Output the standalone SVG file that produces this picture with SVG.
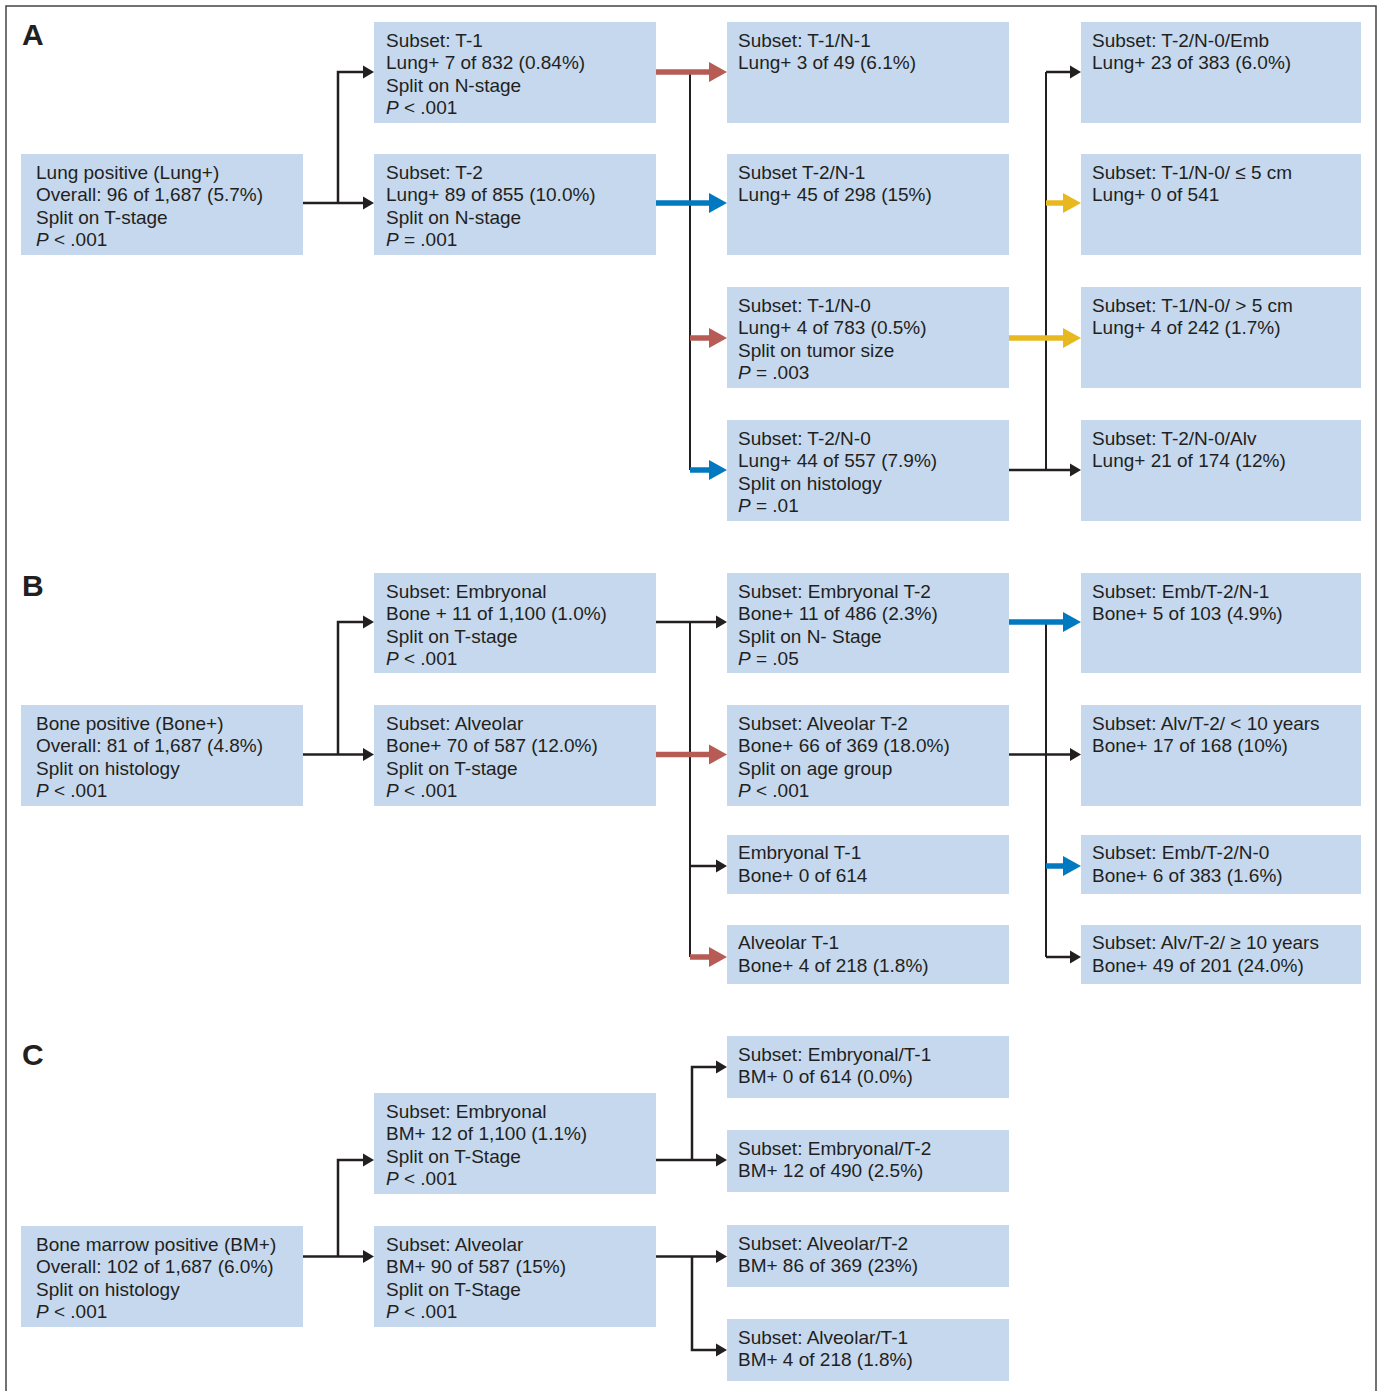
<svg xmlns="http://www.w3.org/2000/svg" width="1381" height="1391" viewBox="0 0 1381 1391">
<style>
.box{fill:#C5D8EE}
.t{font-family:"Liberation Sans",Arial,sans-serif;font-size:19px;fill:#231F20}
.lab{font-family:"Liberation Sans",Arial,sans-serif;font-size:30px;font-weight:bold;fill:#231F20}
.i{font-style:italic}
.k{fill:none;stroke:#231F20;stroke-width:2.5}
.v{fill:none;stroke:#231F20;stroke-width:2}
.r{fill:none;stroke:#B65C54;stroke-width:5.5}
.b{fill:none;stroke:#0079C1;stroke-width:5.5}
.y{fill:none;stroke:#E8B820;stroke-width:5.5}
</style>
<defs>
<marker id="mk" markerUnits="userSpaceOnUse" markerWidth="12" markerHeight="14" refX="0" refY="6.5" orient="auto" overflow="visible"><path d="M0,0 L11,6.5 L0,13 z" fill="#231F20"/></marker>
<marker id="mr" markerUnits="userSpaceOnUse" markerWidth="19" markerHeight="21" refX="0" refY="10" orient="auto" overflow="visible"><path d="M0,0 L18,10 L0,20 z" fill="#B65C54"/></marker>
<marker id="mb" markerUnits="userSpaceOnUse" markerWidth="19" markerHeight="21" refX="0" refY="10" orient="auto" overflow="visible"><path d="M0,0 L18,10 L0,20 z" fill="#0079C1"/></marker>
<marker id="my" markerUnits="userSpaceOnUse" markerWidth="19" markerHeight="21" refX="0" refY="10" orient="auto" overflow="visible"><path d="M0,0 L18,10 L0,20 z" fill="#E8B820"/></marker>
</defs>
<rect x="0" y="0" width="1381" height="1391" fill="#fff"/>
<rect x="6" y="6" width="1370" height="1400" fill="none" stroke="#444" stroke-width="1.5"/>
<text class="lab" x="22" y="45">A</text>
<text class="lab" x="22" y="596">B</text>
<text class="lab" x="22" y="1065">C</text>

<g id="connectors">
<!-- A -->
<path class="k" d="M303,203 H363" marker-end="url(#mk)"/>
<path class="k" d="M338,203 V72 H363" marker-end="url(#mk)"/>
<path class="v" d="M690,72 V470"/>
<path class="v" d="M1046,72 V470"/>
<path class="r" d="M656,72 H709" marker-end="url(#mr)"/>
<path class="r" d="M690,338 H709" marker-end="url(#mr)"/>
<path class="b" d="M656,203 H709" marker-end="url(#mb)"/>
<path class="b" d="M690,470 H709" marker-end="url(#mb)"/>
<path class="y" d="M1009,338 H1063" marker-end="url(#my)"/>
<path class="y" d="M1046,203 H1063" marker-end="url(#my)"/>
<path class="k" d="M1009,470 H1070" marker-end="url(#mk)"/>
<path class="k" d="M1046,72 H1070" marker-end="url(#mk)"/>
<!-- B -->
<path class="k" d="M303,754.5 H363" marker-end="url(#mk)"/>
<path class="k" d="M338,754.5 V622 H363" marker-end="url(#mk)"/>
<path class="v" d="M690,622 V957"/>
<path class="v" d="M1046,622 V957"/>
<path class="k" d="M656,622 H716" marker-end="url(#mk)"/>
<path class="k" d="M690,866 H716" marker-end="url(#mk)"/>
<path class="r" d="M690,957 H709" marker-end="url(#mr)"/>
<path class="r" d="M656,754.5 H709" marker-end="url(#mr)"/>
<path class="b" d="M1009,622 H1063" marker-end="url(#mb)"/>
<path class="b" d="M1046,866 H1063" marker-end="url(#mb)"/>
<path class="k" d="M1009,754.5 H1070" marker-end="url(#mk)"/>
<path class="k" d="M1046,957 H1070" marker-end="url(#mk)"/>
<!-- C -->
<path class="k" d="M303,1256.5 H363" marker-end="url(#mk)"/>
<path class="k" d="M338,1256.5 V1160 H363" marker-end="url(#mk)"/>
<path class="k" d="M656,1160 H716" marker-end="url(#mk)"/>
<path class="k" d="M692,1160 V1067 H716" marker-end="url(#mk)"/>
<path class="k" d="M656,1256.5 H716" marker-end="url(#mk)"/>
<path class="k" d="M692,1256.5 V1350 H716" marker-end="url(#mk)"/>
</g>

<!-- Section A nodes -->
<g id="a0"><rect class="box" x="21" y="154" width="282" height="101"/>
<text class="t" x="36" y="178.5">Lung positive (Lung+)</text>
<text class="t" x="36" y="201">Overall: 96 of 1,687 (5.7%)</text>
<text class="t" x="36" y="223.5">Split on T-stage</text>
<text class="t" x="36" y="246"><tspan class="i">P</tspan> &lt; .001</text></g>
<g id="a1"><rect class="box" x="374" y="22" width="282" height="101"/>
<text class="t" x="386" y="46.5">Subset: T-1</text>
<text class="t" x="386" y="69">Lung+ 7 of 832 (0.84%)</text>
<text class="t" x="386" y="91.5">Split on N-stage</text>
<text class="t" x="386" y="114"><tspan class="i">P</tspan> &lt; .001</text></g>
<g id="a2"><rect class="box" x="374" y="154" width="282" height="101"/>
<text class="t" x="386" y="178.5">Subset: T-2</text>
<text class="t" x="386" y="201">Lung+ 89 of 855 (10.0%)</text>
<text class="t" x="386" y="223.5">Split on N-stage</text>
<text class="t" x="386" y="246"><tspan class="i">P</tspan> = .001</text></g>
<g id="a3"><rect class="box" x="727" y="22" width="282" height="101"/>
<text class="t" x="738" y="46.5">Subset: T-1/N-1</text>
<text class="t" x="738" y="69">Lung+ 3 of 49 (6.1%)</text></g>
<g id="a4"><rect class="box" x="727" y="154" width="282" height="101"/>
<text class="t" x="738" y="178.5">Subset T-2/N-1</text>
<text class="t" x="738" y="201">Lung+ 45 of 298 (15%)</text></g>
<g id="a5"><rect class="box" x="727" y="287" width="282" height="101"/>
<text class="t" x="738" y="311.5">Subset: T-1/N-0</text>
<text class="t" x="738" y="334">Lung+ 4 of 783 (0.5%)</text>
<text class="t" x="738" y="356.5">Split on tumor size</text>
<text class="t" x="738" y="379"><tspan class="i">P</tspan> = .003</text></g>
<g id="a6"><rect class="box" x="727" y="420" width="282" height="101"/>
<text class="t" x="738" y="444.5">Subset: T-2/N-0</text>
<text class="t" x="738" y="467">Lung+ 44 of 557 (7.9%)</text>
<text class="t" x="738" y="489.5">Split on histology</text>
<text class="t" x="738" y="512"><tspan class="i">P</tspan> = .01</text></g>
<g id="a7"><rect class="box" x="1081" y="22" width="280" height="101"/>
<text class="t" x="1092" y="46.5">Subset: T-2/N-0/Emb</text>
<text class="t" x="1092" y="69">Lung+ 23 of 383 (6.0%)</text></g>
<g id="a8"><rect class="box" x="1081" y="154" width="280" height="101"/>
<text class="t" x="1092" y="178.5">Subset: T-1/N-0/ ≤ 5 cm</text>
<text class="t" x="1092" y="201">Lung+ 0 of 541</text></g>
<g id="a9"><rect class="box" x="1081" y="287" width="280" height="101"/>
<text class="t" x="1092" y="311.5">Subset: T-1/N-0/ &gt; 5 cm</text>
<text class="t" x="1092" y="334">Lung+ 4 of 242 (1.7%)</text></g>
<g id="a10"><rect class="box" x="1081" y="420" width="280" height="101"/>
<text class="t" x="1092" y="444.5">Subset: T-2/N-0/Alv</text>
<text class="t" x="1092" y="467">Lung+ 21 of 174 (12%)</text></g>

<!-- Section B nodes -->
<g id="b0"><rect class="box" x="21" y="705" width="282" height="101"/>
<text class="t" x="36" y="729.5">Bone positive (Bone+)</text>
<text class="t" x="36" y="752">Overall: 81 of 1,687 (4.8%)</text>
<text class="t" x="36" y="774.5">Split on histology</text>
<text class="t" x="36" y="797"><tspan class="i">P</tspan> &lt; .001</text></g>
<g id="b1"><rect class="box" x="374" y="573" width="282" height="100"/>
<text class="t" x="386" y="597.5">Subset: Embryonal</text>
<text class="t" x="386" y="620">Bone + 11 of 1,100 (1.0%)</text>
<text class="t" x="386" y="642.5">Split on T-stage</text>
<text class="t" x="386" y="665"><tspan class="i">P</tspan> &lt; .001</text></g>
<g id="b2"><rect class="box" x="374" y="705" width="282" height="101"/>
<text class="t" x="386" y="729.5">Subset: Alveolar</text>
<text class="t" x="386" y="752">Bone+ 70 of 587 (12.0%)</text>
<text class="t" x="386" y="774.5">Split on T-stage</text>
<text class="t" x="386" y="797"><tspan class="i">P</tspan> &lt; .001</text></g>
<g id="b3"><rect class="box" x="727" y="573" width="282" height="100"/>
<text class="t" x="738" y="597.5">Subset: Embryonal T-2</text>
<text class="t" x="738" y="620">Bone+ 11 of 486 (2.3%)</text>
<text class="t" x="738" y="642.5">Split on N- Stage</text>
<text class="t" x="738" y="665"><tspan class="i">P</tspan> = .05</text></g>
<g id="b4"><rect class="box" x="727" y="705" width="282" height="101"/>
<text class="t" x="738" y="729.5">Subset: Alveolar T-2</text>
<text class="t" x="738" y="752">Bone+ 66 of 369 (18.0%)</text>
<text class="t" x="738" y="774.5">Split on age group</text>
<text class="t" x="738" y="797"><tspan class="i">P</tspan> &lt; .001</text></g>
<g id="b5"><rect class="box" x="727" y="835" width="282" height="59"/>
<text class="t" x="738" y="859">Embryonal T-1</text>
<text class="t" x="738" y="881.5">Bone+ 0 of 614</text></g>
<g id="b6"><rect class="box" x="727" y="925" width="282" height="59"/>
<text class="t" x="738" y="949">Alveolar T-1</text>
<text class="t" x="738" y="971.5">Bone+ 4 of 218 (1.8%)</text></g>
<g id="b7"><rect class="box" x="1081" y="573" width="280" height="100"/>
<text class="t" x="1092" y="597.5">Subset: Emb/T-2/N-1</text>
<text class="t" x="1092" y="620">Bone+ 5 of 103 (4.9%)</text></g>
<g id="b8"><rect class="box" x="1081" y="705" width="280" height="101"/>
<text class="t" x="1092" y="729.5">Subset: Alv/T-2/ &lt; 10 years</text>
<text class="t" x="1092" y="752">Bone+ 17 of 168 (10%)</text></g>
<g id="b9"><rect class="box" x="1081" y="835" width="280" height="59"/>
<text class="t" x="1092" y="859">Subset: Emb/T-2/N-0</text>
<text class="t" x="1092" y="881.5">Bone+ 6 of 383 (1.6%)</text></g>
<g id="b10"><rect class="box" x="1081" y="925" width="280" height="59"/>
<text class="t" x="1092" y="949">Subset: Alv/T-2/ ≥ 10 years</text>
<text class="t" x="1092" y="971.5">Bone+ 49 of 201 (24.0%)</text></g>

<!-- Section C nodes -->
<g id="c0"><rect class="box" x="21" y="1226" width="282" height="101"/>
<text class="t" x="36" y="1250.5">Bone marrow positive (BM+)</text>
<text class="t" x="36" y="1273">Overall: 102 of 1,687 (6.0%)</text>
<text class="t" x="36" y="1295.5">Split on histology</text>
<text class="t" x="36" y="1318"><tspan class="i">P</tspan> &lt; .001</text></g>
<g id="c1"><rect class="box" x="374" y="1093" width="282" height="101"/>
<text class="t" x="386" y="1117.5">Subset: Embryonal</text>
<text class="t" x="386" y="1140">BM+ 12 of 1,100 (1.1%)</text>
<text class="t" x="386" y="1162.5">Split on T-Stage</text>
<text class="t" x="386" y="1185"><tspan class="i">P</tspan> &lt; .001</text></g>
<g id="c2"><rect class="box" x="374" y="1226" width="282" height="101"/>
<text class="t" x="386" y="1250.5">Subset: Alveolar</text>
<text class="t" x="386" y="1273">BM+ 90 of 587 (15%)</text>
<text class="t" x="386" y="1295.5">Split on T-Stage</text>
<text class="t" x="386" y="1318"><tspan class="i">P</tspan> &lt; .001</text></g>
<g id="c3"><rect class="box" x="727" y="1036" width="282" height="62"/>
<text class="t" x="738" y="1060.5">Subset: Embryonal/T-1</text>
<text class="t" x="738" y="1083">BM+ 0 of 614 (0.0%)</text></g>
<g id="c4"><rect class="box" x="727" y="1130" width="282" height="62"/>
<text class="t" x="738" y="1154.5">Subset: Embryonal/T-2</text>
<text class="t" x="738" y="1177">BM+ 12 of 490 (2.5%)</text></g>
<g id="c5"><rect class="box" x="727" y="1225" width="282" height="62"/>
<text class="t" x="738" y="1249.5">Subset: Alveolar/T-2</text>
<text class="t" x="738" y="1272">BM+ 86 of 369 (23%)</text></g>
<g id="c6"><rect class="box" x="727" y="1319" width="282" height="62"/>
<text class="t" x="738" y="1343.5">Subset: Alveolar/T-1</text>
<text class="t" x="738" y="1366">BM+ 4 of 218 (1.8%)</text></g>
</svg>
